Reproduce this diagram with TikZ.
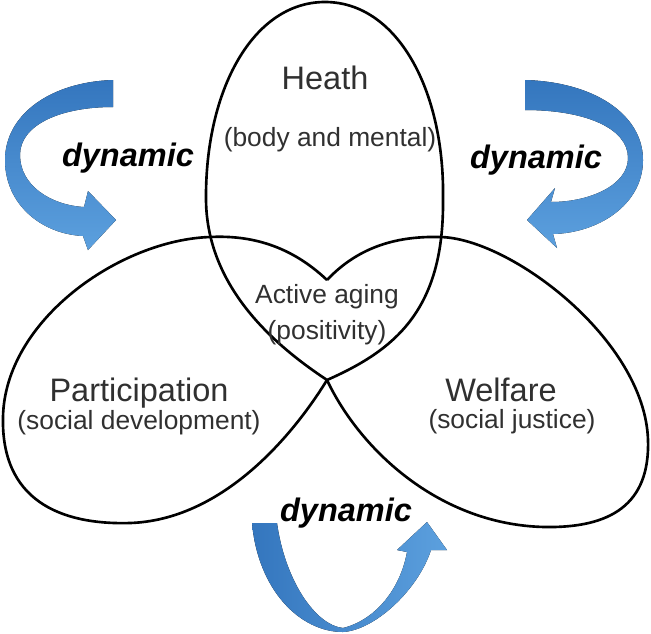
\documentclass[tikz,border=0pt]{standalone}
\usepackage{fontspec}
\setmainfont{Liberation Sans}
\usetikzlibrary{calc}

\definecolor{arrowdark}{RGB}{52,118,190}
\definecolor{arrowlight}{RGB}{92,160,222}
\definecolor{labelgray}{RGB}{48,48,48}

\tikzset{
  outline/.style={black, line width=1.5pt},
  bigtext/.style={text=labelgray, inner sep=0pt, font=\fontsize{18.5}{20}\selectfont},
  subtext/.style={text=labelgray, inner sep=0pt, font=\fontsize{15}{17}\selectfont},
  dyntext/.style={text=black, inner sep=0pt, font=\fontsize{18.5}{20}\selectfont\bfseries\itshape}
}

\begin{document}
\begin{tikzpicture}[x=0.02cm, y=-0.02cm]
  \useasboundingbox (0,0) rectangle (651,633);

  % curved arrows
  \fill[top color=arrowdark, bottom color=arrowlight] (113,80) .. controls (50,82) and (5,115) .. (5,160)
    .. controls (5,205) and (42,234) .. (83,236) -- (88,250) -- (116,220) -- (88,191) -- (84,207)
    .. controls (50,205) and (20,185) .. (20,155) .. controls (20,125) and (60,107) .. (113,107) -- cycle;
  \fill[top color=arrowdark, bottom color=arrowlight] (525,80) .. controls (595,82) and (643,115) .. (643,160)
    .. controls (643,205) and (598,233) .. (553,234) -- (557,248) -- (527,220) -- (555,188) -- (551,202)
    .. controls (590,202) and (628,185) .. (628,158) .. controls (628,128) and (585,110) .. (525,110) -- cycle;
  \fill[left color=arrowdark, right color=arrowlight] (252,523) -- (277,523)
    .. controls (285,580) and (315,625) .. (343,628) .. controls (375,620) and (400,590) .. (407,552)
    -- (397,550) -- (427,522) -- (447,550) -- (431,550)
    .. controls (418,590) and (375,630) .. (343,632) .. controls (300,632) and (258,590) .. (252,523) -- cycle;

  % health
  \draw[outline] (325,2) .. controls (397,2) and (445,90) .. (443,200)
    .. controls (444,310) and (395,350) .. (327,380)
    .. controls (282,350) and (207,292) .. (206,200)
    .. controls (205,90) and (253,2) .. (325,2) -- cycle;
  % participation
  \draw[outline] (327,280) .. controls (290,245) and (250,235) .. (210,237)
    .. controls (120,240) and (5,320) .. (3,417)
    .. controls (1,500) and (60,525) .. (130,523)
    .. controls (220,520) and (290,440) .. (327,380);
  % welfare
  \draw[outline] (327,280) .. controls (360,245) and (400,236) .. (440,237)
    .. controls (510,238) and (645,340) .. (648,440)
    .. controls (650,505) and (610,528) .. (545,527)
    .. controls (440,525) and (360,450) .. (327,380);

  \node[bigtext] (health) at (325,78) {Heath};
  \node[subtext] (healthsub) at (330,140) {(body and mental)};
  \node[subtext] (active) at (327,297) {Active aging};
  \node[subtext] (activesub) at (327,333) {(positivity)};
  \node[bigtext] (partic) at (139,393) {Participation};
  \node[subtext] (particsub) at (139,423) {(social development)};
  \node[bigtext] (welfare) at (501,390) {Welfare};
  \node[subtext] (welfaresub) at (512,422) {(social justice)};

  \node[dyntext] (dynleft) at (128,158) {dynamic};
  \node[dyntext] (dynright) at (536,160) {dynamic};
  \node[dyntext] (dynbottom) at (346,513) {dynamic};
\end{tikzpicture}
\end{document}
